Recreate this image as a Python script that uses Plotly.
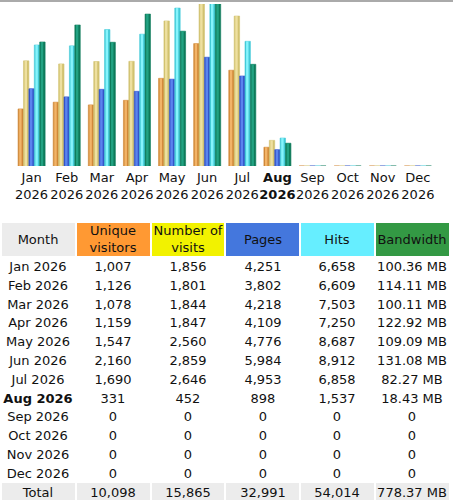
import plotly.graph_objects as go

months = ['Jan', 'Feb', 'Mar', 'Apr', 'May', 'Jun', 'Jul', 'Aug', 'Sep', 'Oct', 'Nov', 'Dec']
year = '2026'
current_month = 'Aug'

unique_visitors = [1007, 1126, 1078, 1159, 1547, 2160, 1690, 331, 0, 0, 0, 0]
visits = [1856, 1801, 1844, 1847, 2560, 2859, 2646, 452, 0, 0, 0, 0]
pages = [4251, 3802, 4218, 4109, 4776, 5984, 4953, 898, 0, 0, 0, 0]
hits = [6658, 6609, 7503, 7250, 8687, 8912, 6858, 1537, 0, 0, 0, 0]
bandwidth_mb = [100.36, 114.11, 100.11, 122.92, 109.09, 131.08, 82.27, 18.43, 0, 0, 0, 0]

headers = ['Month', 'Unique<br>visitors', 'Number of<br>visits', 'Pages', 'Hits', 'Bandwidth']
header_colors = ['#ececec', '#ff9933', '#f2f200', '#4477dd', '#66eeff', '#339944']
body_color = '#ffffff'
total_color = '#ececec'

FONT = 'DejaVu Sans, Verdana, sans-serif'

W, H = 453, 501
HEADER_H = 34.5
ROW_H = 18.8


def fmt_int(v):
    return f'{v:,}'


def fmt_mb(v):
    return f'{v:.2f} MB' if v else '0'


def label(m):
    if m == current_month:
        return f'<b>{m}<br>{year}</b>'
    return f'{m}<br>{year}'


x = list(range(len(months)))
bar_w = 0.154
# (values, edge colour, highlight colour, axis)
series = [
    (unique_visitors, '#d08838', '#f2b468', 'y'),
    (visits, '#d2c270', '#eee0a0', 'y'),
    (pages, '#3454c8', '#5a84ee', 'y2'),
    (hits, '#44cad8', '#86f4fc', 'y2'),
    (bandwidth_mb, '#0e7a5a', '#22a282', 'y3'),
]

fig = go.Figure()

for k, (vals, edge, light, axis) in enumerate(series):
    left = -2.5 * bar_w + k * bar_w
    fig.add_trace(
        go.Bar(
            x=x, y=vals, xaxis='x', yaxis=axis,
            width=bar_w, offset=left,
            marker_color=edge,
            marker_line=dict(color=edge, width=0.6),
            hoverinfo='skip',
        )
    )
    # lighter stripe gives the little cylinder look of the original bars
    fig.add_trace(
        go.Bar(
            x=x, y=vals, xaxis='x', yaxis=axis,
            width=bar_w * 0.45, offset=left + bar_w * 0.2,
            marker_color=light,
            marker_line_width=0,
            hoverinfo='skip',
        )
    )

# ---- table, drawn as a heatmap of cells with text ----
rows = [headers]
for i, m in enumerate(months):
    month_txt = f'{m} {year}'
    if m == current_month:
        month_txt = f'<b>{month_txt}</b>'
    rows.append([
        month_txt,
        fmt_int(unique_visitors[i]),
        fmt_int(visits[i]),
        fmt_int(pages[i]),
        fmt_int(hits[i]),
        fmt_mb(bandwidth_mb[i]),
    ])
rows.append([
    'Total',
    fmt_int(sum(unique_visitors)),
    fmt_int(sum(visits)),
    fmt_int(sum(pages)),
    fmt_int(sum(hits)),
    f'{sum(bandwidth_mb):.2f} MB',
])

palette = header_colors + [body_color, total_color]
n_col = len(headers)
z = [list(range(n_col))]
z += [[n_col] * n_col for _ in months]
z += [[n_col + 1] * n_col]

n = len(palette)
colorscale = []
for i, c in enumerate(palette):
    colorscale.append([i / n, c])
    colorscale.append([(i + 1) / n, c])

row_edges = [0, HEADER_H]
for _ in range(len(months) + 1):
    row_edges.append(row_edges[-1] + ROW_H)

fig.add_trace(
    go.Heatmap(
        z=z,
        x=list(range(n_col + 1)),
        y=row_edges,
        text=rows,
        texttemplate='%{text}',
        textfont=dict(family=FONT, size=13, color='#111111'),
        colorscale=colorscale,
        zmin=-0.5,
        zmax=n - 0.5,
        showscale=False,
        xgap=2,
        ygap=2,
        hoverinfo='skip',
        xaxis='x2',
        yaxis='y4',
    )
)

table_top = 222

fig.update_layout(
    width=W,
    height=H,
    margin=dict(l=0, r=0, t=0, b=0),
    paper_bgcolor='white',
    plot_bgcolor='white',
    barmode='overlay',
    showlegend=False,
    font=dict(family=FONT, size=13, color='#111111'),
    xaxis=dict(
        range=[-0.9, 12.0],
        tickmode='array',
        tickvals=x,
        ticktext=[label(m) for m in months],
        tickangle=0,
        automargin=False,
        showgrid=False,
        zeroline=False,
        showline=False,
        ticks='',
        ticklabelstandoff=2,
        tickfont=dict(family=FONT, size=13, color='#111111'),
        domain=[0, 1],
        anchor='y',
    ),
    yaxis=dict(range=[0, max(visits)], domain=[1 - 166 / H, 1 - 4 / H], visible=False),
    yaxis2=dict(range=[0, max(hits)], overlaying='y', visible=False),
    yaxis3=dict(range=[0, max(bandwidth_mb)], overlaying='y', visible=False),
    xaxis2=dict(range=[0, n_col], domain=[1 / W, 449.5 / W], visible=False, anchor='y4'),
    yaxis4=dict(range=[row_edges[-1], 0], domain=[0, 1 - table_top / H], visible=False, anchor='x2'),
    shapes=[
        dict(type='line', xref='paper', yref='paper', x0=0, x1=1, y0=1 - 1 / H, y1=1 - 1 / H,
             line=dict(color='#aaaaaa', width=2)),
    ],
)

fig.write_html(
    "out.html",
    config={'displayModeBar': False},
    post_script="document.body.style.margin='0';",
)
